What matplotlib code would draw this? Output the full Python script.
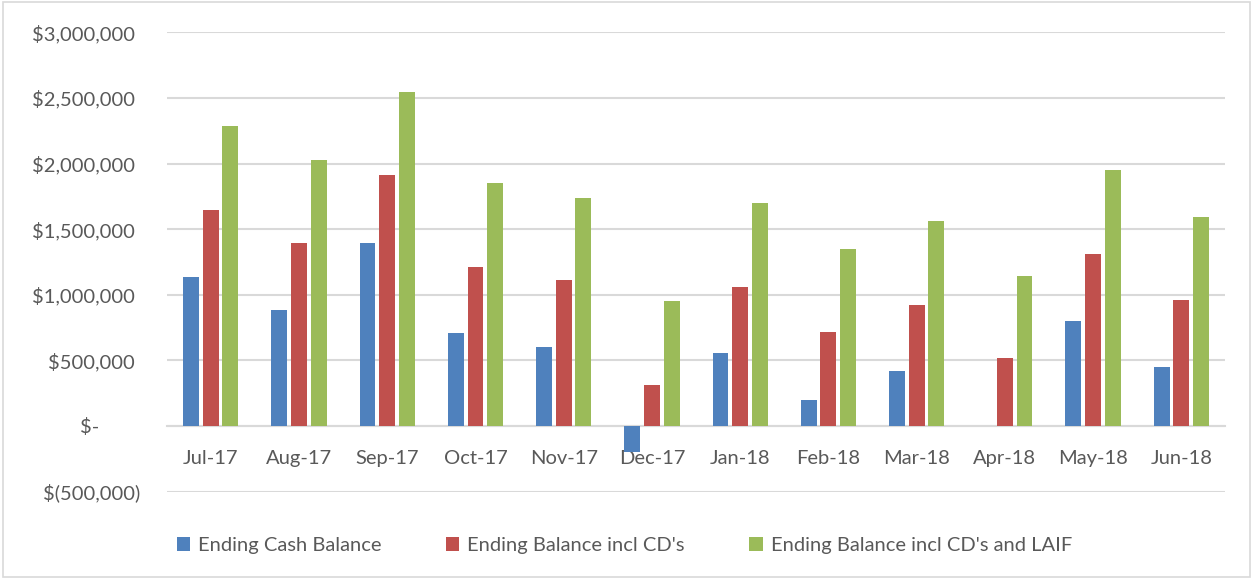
import numpy as np
import matplotlib.pyplot as plt
from matplotlib.ticker import FuncFormatter
from matplotlib.patches import Rectangle

months = ['Jul-17', 'Aug-17', 'Sep-17', 'Oct-17', 'Nov-17', 'Dec-17',
          'Jan-18', 'Feb-18', 'Mar-18', 'Apr-18', 'May-18', 'Jun-18']
cash = [1137000, 886000, 1398000, 705000, 599000, -200000,
        553000, 196000, 416000, 0, 804000, 447000]
incl_cds = [1649000, 1396000, 1910000, 1215000, 1109000, 312000,
            1063000, 713000, 926000, 515000, 1314000, 957000]
incl_laif = [2286000, 2030000, 2547000, 1855000, 1740000, 949000,
             1702000, 1352000, 1565000, 1147000, 1953000, 1596000]

plt.rcParams['font.family'] = ['Lato', 'DejaVu Sans']
txt = '#595959'
fs = 14.5

fig = plt.figure(figsize=(12.53, 5.79), dpi=100)
ax = fig.add_axes([0.133, 0.151, 0.845, 0.793])

x = np.arange(len(months))
w = 0.18
step = 0.223
ax.bar(x - step, cash, w, color='#4F81BD', label='Ending Cash Balance', zorder=3)
ax.bar(x, incl_cds, w, color='#C0504D', label="Ending Balance incl CD's", zorder=3)
ax.bar(x + step, incl_laif, w, color='#9BBB59', label="Ending Balance incl CD's and LAIF", zorder=3)

ax.set_ylim(-500000, 3000000)
ax.set_xlim(-0.5, len(months) - 0.5)
ax.set_yticks(np.arange(-500000, 3000001, 500000))


def money(v, pos):
    if v == 0:
        return '$-        '
    if v < 0:
        return '$({:,.0f})'.format(-v)
    return '${:,.0f} '.format(v)


ax.yaxis.set_major_formatter(FuncFormatter(money))
ax.grid(axis='y', color='#D9D9D9', linewidth=1.5, zorder=0)
ax.set_axisbelow(True)

for s in ['top', 'right', 'left']:
    ax.spines[s].set_visible(False)
ax.spines['bottom'].set_position(('data', 0))
ax.spines['bottom'].set_color('#D9D9D9')
ax.spines['bottom'].set_linewidth(1.5)

ax.set_xticks(x)
ax.set_xticklabels(months)
ax.tick_params(axis='x', length=0, pad=17, labelsize=fs, colors=txt)
ax.tick_params(axis='y', length=0, pad=19, labelsize=fs, colors=txt)

fig.legend(loc='lower left', bbox_to_anchor=(0.127, 0.012), ncol=3, frameon=False,
           fontsize=fs, labelcolor=txt, handlelength=0.65, handleheight=0.65,
           handletextpad=0.4, columnspacing=3.2)

fig.patches.append(Rectangle((0.002, 0.003), 0.996, 0.994, transform=fig.transFigure,
                             fill=False, edgecolor='#D9D9D9', linewidth=1.2))

fig.savefig('out.png', dpi=100)
